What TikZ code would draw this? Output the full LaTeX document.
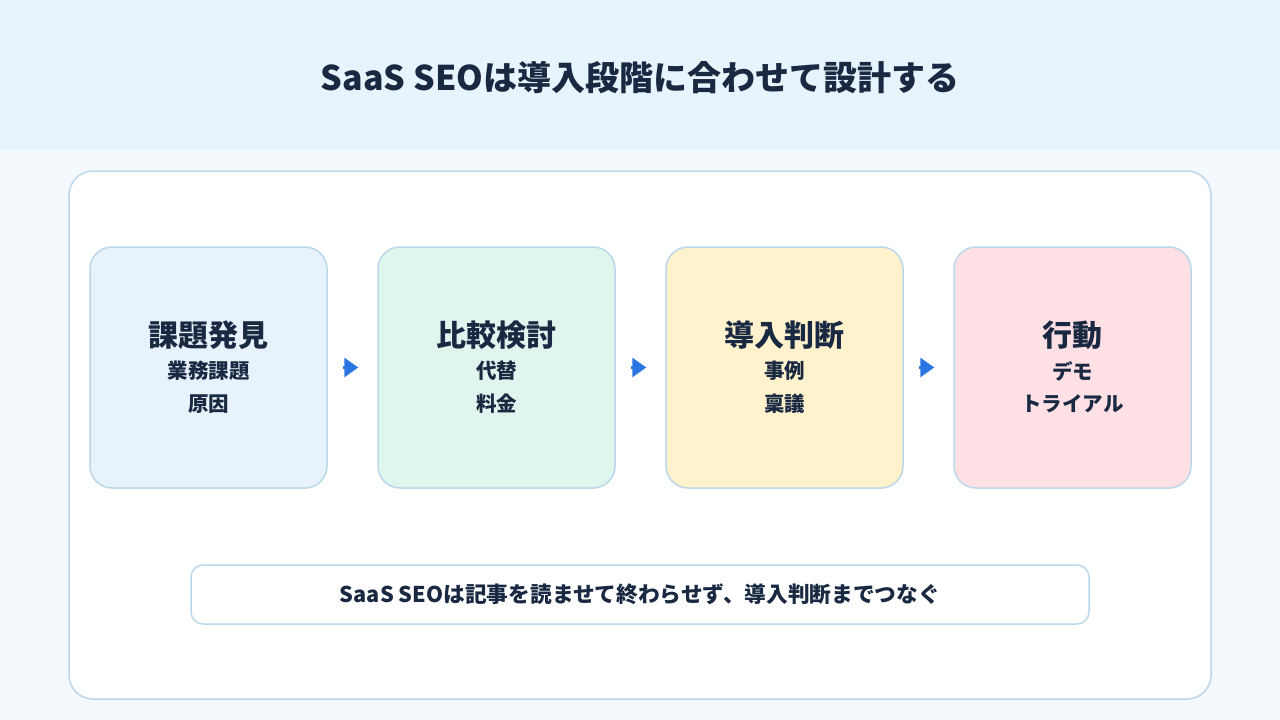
\documentclass[tikz,border=0pt]{standalone}
\usepackage{fontspec}
\setmainfont{Noto Sans CJK JP}
\usetikzlibrary{arrows.meta,calc}
\definecolor{bgA}{HTML}{E8F4FD}
\definecolor{bgB}{HTML}{F4F9FD}
\definecolor{edge}{HTML}{BBD7EA}
\definecolor{ink}{HTML}{1A2942}
\definecolor{fA}{HTML}{E8F2FC}
\definecolor{fB}{HTML}{DFF6EF}
\definecolor{fC}{HTML}{FFF2CC}
\definecolor{fD}{HTML}{FFE1E5}
\definecolor{arr}{HTML}{2B74E2}
\tikzset{
  stage/.style={draw=edge, line width=1.5pt, rounded corners=22pt, minimum width=237pt, minimum height=241pt, inner sep=0pt},
  ttl/.style={text=ink, font=\fontsize{30}{30}\selectfont\bfseries, inner sep=0pt},
  sub/.style={text=ink, font=\fontsize{20.5}{20.5}\selectfont\bfseries, inner sep=0pt},
  flow/.style={draw=arr, line width=3pt, -{Triangle[length=14pt,width=19pt]}, arr},
}
\begin{document}
\begin{tikzpicture}[x=1pt,y=-1pt]
\useasboundingbox (0,0) rectangle (1280,720);
\fill[bgB] (0,0) rectangle (1280,720);
\fill[bgA] (0,0) rectangle (1280,150);
\node[text=ink, font=\fontsize{34}{34}\selectfont\bfseries, inner sep=0pt] (title) at (640,78) {SaaS SEOは導入段階に合わせて設計する};
\node[draw=edge, line width=1.5pt, fill=white, rounded corners=24pt, minimum width=1142pt, minimum height=528pt, inner sep=0pt] (panel) at (640,435) {};
\foreach \i/\f/\t/\a/\b in {1/fA/課題発見/業務課題/原因, 2/fB/比較検討/代替/料金, 3/fC/導入判断/事例/稟議, 4/fD/行動/デモ/トライアル}{
  \node[stage, fill=\f] (s\i) at ({208.5+288*(\i-1)},367.5) {};
  \node[ttl] (t\i) at ($(s\i.center)+(0,-32)$) {\t};
  \node[sub] (a\i) at ($(s\i.center)+(0,3.5)$) {\a};
  \node[sub] (b\i) at ($(s\i.center)+(0,36.5)$) {\b};
}
\foreach \i/\j in {1/2,2/3,3/4}{
  \draw[flow] ($(s\i.east)+(15,0)$) -- ($(s\j.west)+(-19,0)$);
}
\node[draw=edge, line width=1.5pt, fill=white, rounded corners=12pt, minimum width=898pt, minimum height=59pt, inner sep=0pt] (note) at (640,594.5) {};
\node[text=ink, font=\fontsize{21.7}{21.7}\selectfont\bfseries, inner sep=0pt] (notetext) at (note.center) {SaaS SEOは記事を読ませて終わらせず、導入判断までつなぐ};
\end{tikzpicture}
\end{document}
